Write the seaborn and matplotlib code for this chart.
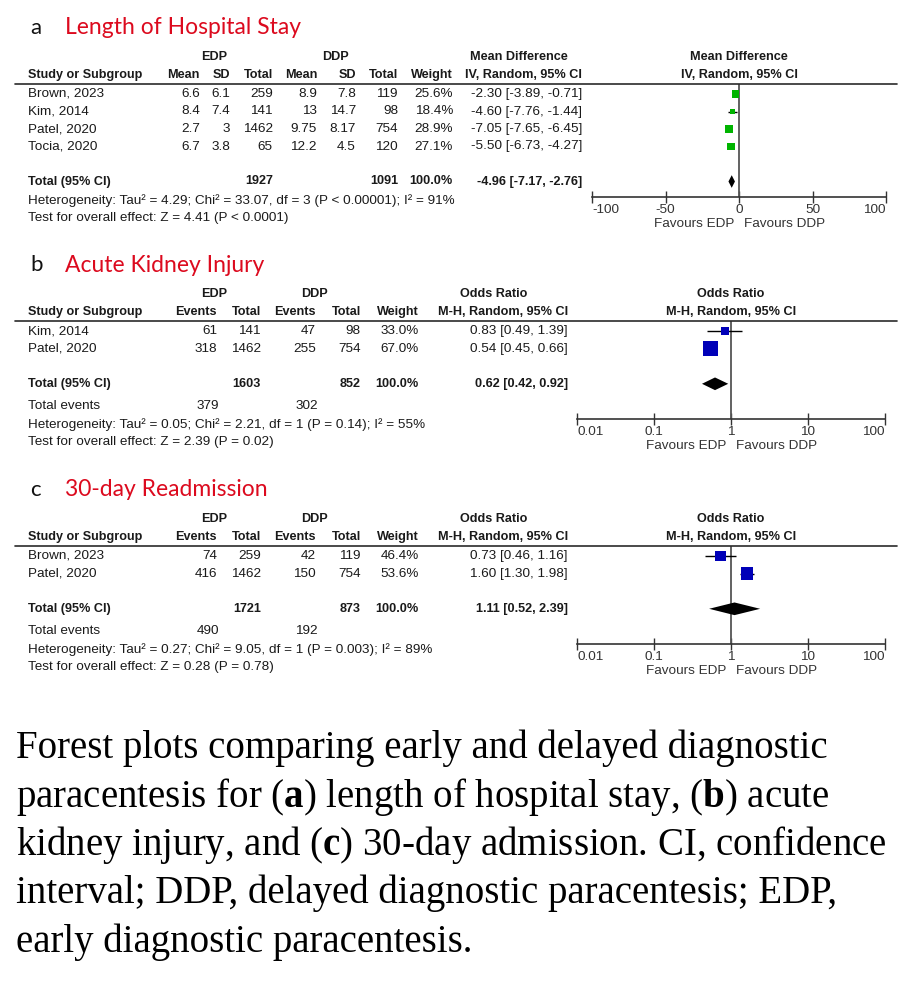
import pandas as pd
import seaborn as sns
import matplotlib.pyplot as plt
from matplotlib.lines import Line2D

W, H = 910, 1000

# (a) length of hospital stay
los_study = ["Brown, 2023", "Kim, 2014", "Patel, 2020", "Tocia, 2020"]
los_edp_mean = ["6.6", "8.4", "2.7", "6.7"]
los_edp_sd = ["6.1", "7.4", "3", "3.8"]
los_edp_n = [259, 141, 1462, 65]
los_ddp_mean = ["8.9", "13", "9.75", "12.2"]
los_ddp_sd = ["7.8", "14.7", "8.17", "4.5"]
los_ddp_n = [119, 98, 754, 120]
los_weight = [25.6, 18.4, 28.9, 27.1]
los_md = [-2.30, -4.60, -7.05, -5.50]
los_lo = [-3.89, -7.76, -7.65, -6.73]
los_hi = [-0.71, -1.44, -6.45, -4.27]
los_pooled = [-4.96, -7.17, -2.76]
los_n_total = [1927, 1091]
los_het = "Heterogeneity: Tau\u00b2 = 4.29; Chi\u00b2 = 33.07, df = 3 (P < 0.00001); I\u00b2 = 91%"
los_test = "Test for overall effect: Z = 4.41 (P < 0.0001)"

# (b) acute kidney injury
aki_study = ["Kim, 2014", "Patel, 2020"]
aki_edp_ev = [61, 318]
aki_edp_n = [141, 1462]
aki_ddp_ev = [47, 255]
aki_ddp_n = [98, 754]
aki_weight = [33.0, 67.0]
aki_or = [0.83, 0.54]
aki_lo = [0.49, 0.45]
aki_hi = [1.39, 0.66]
aki_pooled = [0.62, 0.42, 0.92]
aki_n_total = [1603, 852]
aki_ev_total = [379, 302]
aki_het = "Heterogeneity: Tau\u00b2 = 0.05; Chi\u00b2 = 2.21, df = 1 (P = 0.14); I\u00b2 = 55%"
aki_test = "Test for overall effect: Z = 2.39 (P = 0.02)"

# (c) 30-day readmission
rea_study = ["Brown, 2023", "Patel, 2020"]
rea_edp_ev = [74, 416]
rea_edp_n = [259, 1462]
rea_ddp_ev = [42, 150]
rea_ddp_n = [119, 754]
rea_weight = [46.4, 53.6]
rea_or = [0.73, 1.60]
rea_lo = [0.46, 1.30]
rea_hi = [1.16, 1.98]
rea_pooled = [1.11, 0.52, 2.39]
rea_n_total = [1721, 873]
rea_ev_total = [490, 192]
rea_het = "Heterogeneity: Tau\u00b2 = 0.27; Chi\u00b2 = 9.05, df = 1 (P = 0.003); I\u00b2 = 89%"
rea_test = "Test for overall effect: Z = 0.28 (P = 0.78)"

md_ticks = [-100, -50, 0, 50, 100]
or_ticks = [0.01, 0.1, 1, 10, 100]

caption = [
    "Forest plots comparing early and delayed diagnostic",
    "paracentesis for ($\\mathbf{a}$) length of hospital stay, ($\\mathbf{b}$) acute",
    "kidney injury, and ($\\mathbf{c}$) 30-day admission. CI, confidence",
    "interval; DDP, delayed diagnostic paracentesis; EDP,",
    "early diagnostic paracentesis.",
]

sns.set_style("white")
plt.rcParams["font.family"] = ["Liberation Sans", "DejaVu Sans"]
plt.rcParams["mathtext.fontset"] = "custom"
plt.rcParams["mathtext.rm"] = "Liberation Serif"
plt.rcParams["mathtext.bf"] = "Liberation Serif:bold"

fig = plt.figure(figsize=(W / 100, H / 100), dpi=100)
TXT = "#1a1a1a"
FS = 9.7     # regular table text
FSB = 9.1    # bold table text


def txt(x, y, s, ha="left", bold=False, size=None, **kw):
    if size is None:
        size = FSB if bold else FS
    fig.text(x / W, 1 - y / H, s, ha=ha, va="center", fontsize=size,
             fontweight="bold" if bold else "normal", color=kw.pop("color", TXT), **kw)


def hline(y, x0=15, x1=897):
    fig.add_artist(Line2D([x0 / W, x1 / W], [1 - y / H, 1 - y / H],
                          transform=fig.transFigure, color="#2a2a2a", lw=1.2))


def title(y, letter, name):
    txt(30, y, letter, size=16, family="Lato", color="#111111")
    txt(65, y, name, size=16.5, family="Lato", color="#dc0a1e")


def forest(x0, x1, y_top, y_bot, row0, dy, studies, est, lo, hi, weight, pooled,
           color, log, ticks, null, hdr_y, hdr1, hdr2, scale):
    ax = fig.add_axes([x0 / W, 1 - y_bot / H, (x1 - x0) / W, (y_bot - y_top) / H])
    n = len(studies)
    df = pd.DataFrame({"study": studies, "est": est, "lo": lo, "hi": hi,
                       "w": weight, "row": range(n)})
    # square side proportional to weight
    sizes = {s: (scale * w) ** 2 for s, w in zip(studies, weight)}
    ax.hlines(df["row"], df["lo"], df["hi"], color="black", lw=1, zorder=2)
    sns.scatterplot(data=df, x="est", y="row", size="study", sizes=sizes,
                    marker="s", color=color, edgecolor="none", linewidth=0,
                    legend=False, ax=ax, zorder=3)
    r = n + 1
    h = 0.36
    ax.fill([pooled[1], pooled[0], pooled[2], pooled[0]], [r, r - h, r, r + h],
            color="black", lw=0, zorder=3)
    ax.axvline(null, color="#555555", lw=1.3, zorder=1)
    if log:
        ax.set_xscale("log")
    ax.set_xlim(ticks[0], ticks[-1])
    ax.set_ylim((y_bot - row0) / dy, (y_top - row0) / dy)
    ax.minorticks_off()
    ax.set_xticks(ticks)
    ax.set_xticklabels([f"{t:g}" for t in ticks], fontsize=FS, color="#333333")
    labs = ax.get_xticklabels()
    labs[0].set_ha("left")
    labs[-1].set_ha("right")
    ax.tick_params(axis="x", direction="inout", length=8, width=1, pad=1,
                   colors="#333333", bottom=True, labelcolor="#333333")
    ax.set_yticks([])
    ax.set_xlabel("")
    ax.set_ylabel("")
    for side in ["top", "left", "right"]:
        ax.spines[side].set_visible(False)
    ax.spines["bottom"].set_color("#333333")
    ax.spines["bottom"].set_linewidth(1.2)
    ax.patch.set_alpha(0)
    cx = (x0 + x1) / 2
    txt(cx, hdr_y[0], hdr1, ha="center", bold=True)
    txt(cx, hdr_y[1], hdr2, ha="center", bold=True)
    txt(cx - 5, y_bot + 27, "Favours EDP", ha="right", color="#333333")
    txt(cx + 5, y_bot + 27, "Favours DDP", ha="left", color="#333333")


# ---------------- panel a ----------------
title(28, "a", "Length of Hospital Stay")
txt(214, 57, "EDP", ha="center", bold=True)
txt(335, 57, "DDP", ha="center", bold=True)
txt(519, 57, "Mean Difference", ha="center", bold=True)
cols_a = [200, 230, 273, 317, 356, 398, 453, 582]
heads_a = ["Mean", "SD", "Total", "Mean", "SD", "Total", "Weight", "IV, Random, 95% CI"]
txt(28, 75, "Study or Subgroup", bold=True)
for x, s in zip(cols_a, heads_a):
    txt(x, 75, s, ha="right", bold=True)
hline(84)
row0, dy = 94, 17.5
for i in range(len(los_study)):
    y = row0 + i * dy
    vals = [los_edp_mean[i], los_edp_sd[i], los_edp_n[i], los_ddp_mean[i],
            los_ddp_sd[i], los_ddp_n[i], f"{los_weight[i]:.1f}%",
            f"{los_md[i]:.2f} [{los_lo[i]:.2f}, {los_hi[i]:.2f}]"]
    txt(28, y, los_study[i])
    for x, v in zip(cols_a, vals):
        txt(x, y, str(v), ha="right")
yt = row0 + 5 * dy
txt(28, yt, "Total (95% CI)", bold=True)
txt(cols_a[2], yt, str(los_n_total[0]), ha="right", bold=True)
txt(cols_a[5], yt, str(los_n_total[1]), ha="right", bold=True)
txt(cols_a[6], yt, "100.0%", ha="right", bold=True)
txt(cols_a[7], yt, f"{los_pooled[0]:.2f} [{los_pooled[1]:.2f}, {los_pooled[2]:.2f}]",
    ha="right", bold=True)
txt(28, 201, los_het)
txt(28, 218, los_test)
forest(592, 886, 84, 197, row0, dy, los_study, los_md, los_lo, los_hi, los_weight,
       los_pooled, "#00b400", False, md_ticks, 0, (57, 75),
       "Mean Difference", "IV, Random, 95% CI", 0.2)


def or_panel(ytitle, letter, name, top, studies, edp_ev, edp_n, ddp_ev, ddp_n,
             weight, est, lo, hi, pooled, n_total, ev_total, het, test):
    title(ytitle, letter, name)
    txt(214, top, "EDP", ha="center", bold=True)
    txt(314, top, "DDP", ha="center", bold=True)
    txt(494, top, "Odds Ratio", ha="center", bold=True)
    cols = [217, 261, 316, 361, 419, 568]
    heads = ["Events", "Total", "Events", "Total", "Weight", "M-H, Random, 95% CI"]
    txt(28, top + 18, "Study or Subgroup", bold=True)
    for x, s in zip(cols, heads):
        txt(x, top + 18, s, ha="right", bold=True)
    line = top + 27
    hline(line)
    r0, d = line + 10, 17.6
    for i in range(len(studies)):
        y = r0 + i * d
        vals = [edp_ev[i], edp_n[i], ddp_ev[i], ddp_n[i], f"{weight[i]:.1f}%",
                f"{est[i]:.2f} [{lo[i]:.2f}, {hi[i]:.2f}]"]
        txt(28, y, studies[i])
        for x, v in zip(cols, vals):
            txt(x, y, str(v), ha="right")
    yt = r0 + 3 * d
    txt(28, yt, "Total (95% CI)", bold=True)
    txt(cols[1], yt, str(n_total[0]), ha="right", bold=True)
    txt(cols[3], yt, str(n_total[1]), ha="right", bold=True)
    txt(cols[4], yt, "100.0%", ha="right", bold=True)
    txt(cols[5], yt, f"{pooled[0]:.2f} [{pooled[1]:.2f}, {pooled[2]:.2f}]",
        ha="right", bold=True)
    txt(28, line + 85, "Total events")
    txt(219, line + 85, str(ev_total[0]), ha="right")
    txt(318, line + 85, str(ev_total[1]), ha="right")
    txt(28, line + 104, het)
    txt(28, line + 121, test)
    forest(577, 885, line, line + 98, r0, d, studies, est, lo, hi, weight, pooled,
           "#0000b8", True, or_ticks, 1, (top, top + 18),
           "Odds Ratio", "M-H, Random, 95% CI", 0.165)


or_panel(265, "b", "Acute Kidney Injury", 294, aki_study, aki_edp_ev, aki_edp_n,
         aki_ddp_ev, aki_ddp_n, aki_weight, aki_or, aki_lo, aki_hi, aki_pooled,
         aki_n_total, aki_ev_total, aki_het, aki_test)
or_panel(490, "c", "30-day Readmission", 519, rea_study, rea_edp_ev, rea_edp_n,
         rea_ddp_ev, rea_ddp_n, rea_weight, rea_or, rea_lo, rea_hi, rea_pooled,
         rea_n_total, rea_ev_total, rea_het, rea_test)

# caption
for i, line in enumerate(caption):
    txt(16, 748 + i * 48.5, line, size=28, family="Liberation Serif", color="black")

fig.savefig("out.png", dpi=100)
